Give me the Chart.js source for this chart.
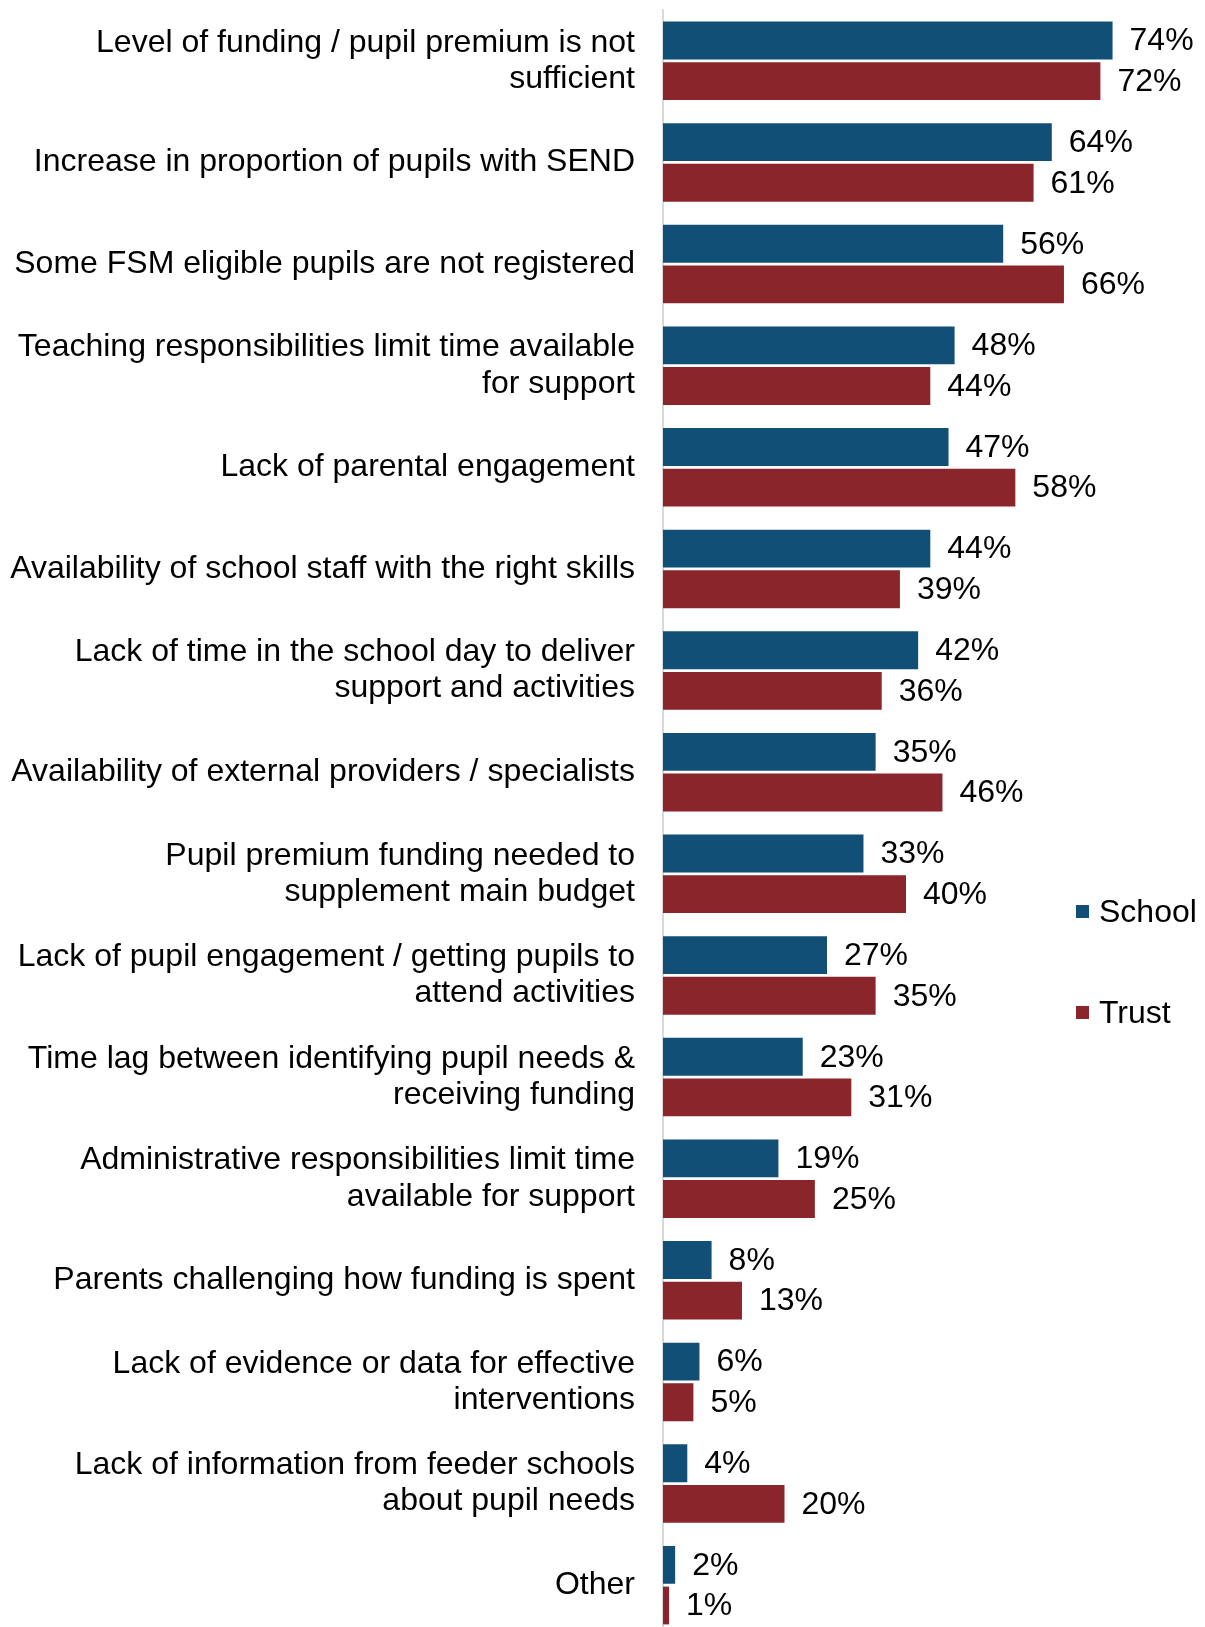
<!DOCTYPE html>
<html lang="en">
<head>
  <meta charset="UTF-8" />
  <title>Barriers to using pupil premium funding</title>
  <script src="https://cdn.jsdelivr.net/npm/chart.js"></script>
  <style>
    html, body {
      margin: 0;
      padding: 0;
      background: #ffffff;
      overflow: hidden;
    }

    #chart-wrap {
      position: relative;
      width: 1205px;
      height: 1640px;
    }

    #legend {
      position: absolute;
      left: 1076px;
      top: 892px;
      font-family: 'Liberation Sans', Arial, sans-serif;
      font-size: 32px;
      color: #000;
    }

    .legend-item {
      display: flex;
      align-items: center;
      height: 38px;
      margin-bottom: 63px;
    }

    .legend-box {
      width: 13px;
      height: 13px;
      margin-right: 10px;
    }
  </style>
</head>
<body>
  <div id="chart-wrap">
    <canvas id="myChart" width="1205" height="1640"></canvas>
    <div id="legend"></div>
  </div>

  <script>
    const categories = [
      ['Level of funding / pupil premium is not', 'sufficient'],
      'Increase in proportion of pupils with SEND',
      'Some FSM eligible pupils are not registered',
      ['Teaching responsibilities limit time available', 'for support'],
      'Lack of parental engagement',
      'Availability of school staff with the right skills',
      ['Lack of time in the school day to deliver', 'support and activities'],
      'Availability of external providers / specialists',
      ['Pupil premium funding needed to', 'supplement main budget'],
      ['Lack of pupil engagement / getting pupils to', 'attend activities'],
      ['Time lag between identifying pupil needs &', 'receiving funding'],
      ['Administrative responsibilities limit time', 'available for support'],
      'Parents challenging how funding is spent',
      ['Lack of evidence or data for effective', 'interventions'],
      ['Lack of information from feeder schools', 'about pupil needs'],
      'Other'
    ];

    const seriesNames = ['School', 'Trust'];
    const schoolValues = [74, 64, 56, 48, 47, 44, 42, 35, 33, 27, 23, 19, 8, 6, 4, 2];
    const trustValues = [72, 61, 66, 44, 58, 39, 36, 46, 40, 35, 31, 25, 13, 5, 20, 1];
    const seriesColors = ['#124f77', '#8a252c'];

    const FONT = "'Liberation Sans', Arial, sans-serif";
    const FONT_SIZE = 32;

    // value labels after the end of each bar
    const barLabels = {
      id: 'barLabels',
      afterDatasetsDraw(chart) {
        const c = chart.ctx;
        c.save();
        c.font = FONT_SIZE + 'px ' + FONT;
        c.fillStyle = '#000';
        c.textAlign = 'left';
        c.textBaseline = 'middle';
        chart.data.datasets.forEach((ds, i) => {
          chart.getDatasetMeta(i).data.forEach((bar, j) => {
            c.fillText(ds.data[j] + '%', bar.x + 17, bar.y + 1);
          });
        });
        c.restore();
      }
    };

    const ctx = document.getElementById('myChart').getContext('2d');

    new Chart(ctx, {
      type: 'bar',
      data: {
        labels: categories,
        datasets: [
          {
            label: seriesNames[0],
            data: schoolValues,
            backgroundColor: seriesColors[0],
            barPercentage: 0.93,
            categoryPercentage: 0.8
          },
          {
            label: seriesNames[1],
            data: trustValues,
            backgroundColor: seriesColors[1],
            barPercentage: 0.93,
            categoryPercentage: 0.8
          }
        ]
      },
      options: {
        indexAxis: 'y',
        responsive: false,
        animation: false,
        layout: {
          padding: { top: 10, right: 56, bottom: 4, left: 0 }
        },
        scales: {
          x: {
            display: false,
            min: 0,
            max: 80
          },
          y: {
            grid: { display: false, drawTicks: false },
            border: { display: true, color: '#d9d9d9', width: 2 },
            ticks: {
              color: '#000',
              padding: 28,
              font: { family: FONT, size: FONT_SIZE, lineHeight: 1.13 }
            },
            afterFit(scale) {
              scale.width = 663;
              // labels sit at category centres, no extra room needed
              scale.paddingTop = 0;
              scale.paddingBottom = 0;
            }
          }
        },
        plugins: {
          legend: { display: false },
          tooltip: { enabled: false }
        }
      },
      plugins: [barLabels]
    });

    // legend built from the series names and colours
    const legend = document.getElementById('legend');
    seriesNames.forEach((name, i) => {
      const item = document.createElement('div');
      item.className = 'legend-item';
      const box = document.createElement('span');
      box.className = 'legend-box';
      box.style.background = seriesColors[i];
      const text = document.createElement('span');
      text.textContent = name;
      item.appendChild(box);
      item.appendChild(text);
      legend.appendChild(item);
    });
  </script>
</body>
</html>
